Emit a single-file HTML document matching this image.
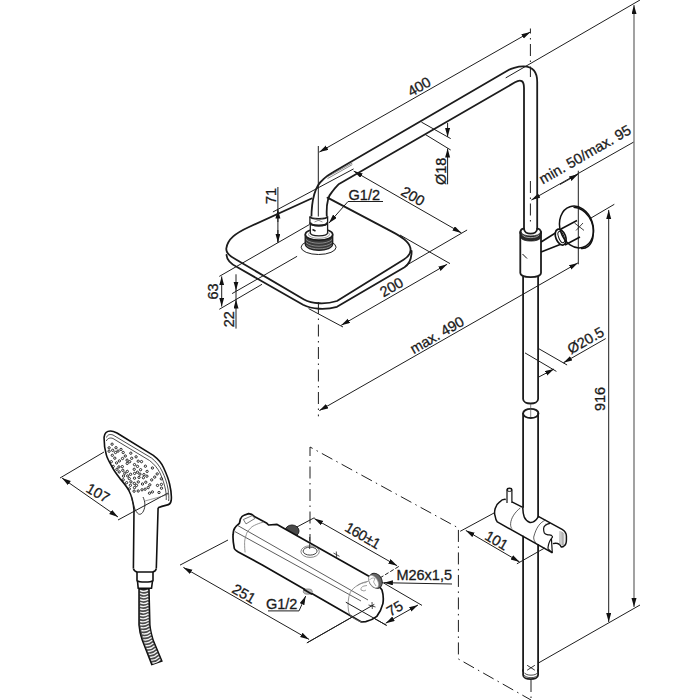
<!DOCTYPE html>
<html><head><meta charset="utf-8">
<style>
html,body{margin:0;padding:0;background:#fff;width:700px;height:700px;overflow:hidden}
svg{display:block}
text{font-family:"Liberation Sans",sans-serif;font-size:14.5px;fill:#1a1a1a;stroke:#1a1a1a;stroke-width:0.3px}
</style></head><body>
<svg width="700" height="700" viewBox="0 0 700 700">
<defs>
<marker id="a" markerUnits="userSpaceOnUse" markerWidth="10" markerHeight="6" refX="9" refY="2.5" orient="auto-start-reverse">
<path d="M0,0 L9,2.5 L0,5 Z" fill="#111"/>
</marker>
</defs>
<rect width="700" height="700" fill="#fff"/>

<!-- ============ THIN LINES (dimensions / extensions) ============ -->
<g fill="none" stroke="#1e1e1e" stroke-width="1">
  <!-- 400 -->
  <line x1="319.3" y1="152.1" x2="530.4" y2="32" marker-start="url(#a)" marker-end="url(#a)"/>
  <line x1="318.3" y1="146" x2="318.3" y2="222"/>
  <!-- top long ext to 916 -->
  <line x1="505.7" y1="77.9" x2="640" y2="0"/>
  <!-- Ø18 -->
  <line x1="421.4" y1="122.1" x2="450.7" y2="138.6"/>
  <line x1="425" y1="134.3" x2="450.7" y2="150"/>
  <line x1="447.6" y1="122.9" x2="447.6" y2="137" marker-end="url(#a)"/>
  <line x1="447.6" y1="184.3" x2="447.6" y2="148.5" marker-end="url(#a)"/>
  <!-- 71 -->
  <line x1="272.9" y1="212" x2="353.6" y2="168.9"/>
  <line x1="277.9" y1="187" x2="277.9" y2="242.5"/>
  <path d="M277.9,222 L277.9,209.5" marker-end="url(#a)"/>
  <path d="M277.9,230 L277.9,242.5" marker-end="url(#a)"/>
  <line x1="219.3" y1="276.4" x2="309.5" y2="224.5"/>
  <!-- 63 / 22 -->
  <line x1="221.7" y1="276.4" x2="221.7" y2="306.6" marker-start="url(#a)" marker-end="url(#a)"/>
  <line x1="232.1" y1="293.6" x2="297.1" y2="256.3"/>
  <line x1="219.3" y1="309.3" x2="262" y2="284.3"/>
  <path d="M236,274.3 L236,290.5" marker-end="url(#a)"/>
  <line x1="236" y1="290" x2="236" y2="300"/>
  <path d="M236,328.6 L236,299.5" marker-end="url(#a)"/>
  <!-- 200 upper -->
  <line x1="353.7" y1="171.1" x2="461.4" y2="232.9" marker-start="url(#a)" marker-end="url(#a)"/>
  <line x1="467.1" y1="230" x2="405.7" y2="265.7"/>
  <!-- 200 lower -->
  <line x1="341.2" y1="325.3" x2="447.1" y2="264.3" marker-start="url(#a)" marker-end="url(#a)"/>
  <line x1="308.6" y1="308.6" x2="343" y2="327"/>
  <line x1="400" y1="235" x2="450" y2="263.6"/>
  <!-- max 490 -->
  <line x1="319.4" y1="410.6" x2="577.9" y2="262.9" marker-start="url(#a)" marker-end="url(#a)"/>
  <!-- min50/max95 -->
  <line x1="531.4" y1="200" x2="633.6" y2="142.1" marker-start="url(#a)"/>
  <path d="M560,184.5 L578,174.3" marker-end="url(#a)"/>
  <line x1="578.3" y1="170.7" x2="578.3" y2="264.3"/>
  <!-- Ø20.5 -->
  <line x1="538.6" y1="348.6" x2="567.1" y2="365"/>
  <line x1="525" y1="352.9" x2="556.4" y2="371.4"/>
  <path d="M538.6,377.1 L554,369" marker-end="url(#a)"/>
  <path d="M605.7,338.6 L563.4,362.8" marker-end="url(#a)"/>
  <!-- 916 -->
  <line x1="608.7" y1="210" x2="608.7" y2="622" marker-start="url(#a)" marker-end="url(#a)"/>
  <line x1="634" y1="5" x2="634" y2="607" marker-start="url(#a)" marker-end="url(#a)" stroke="#555" stroke-width="1.1"/>
  <line x1="590" y1="218.6" x2="614.3" y2="204.3"/>
  <line x1="538.4" y1="663" x2="640" y2="605"/>
  <!-- G1/2 top leader -->
  <path d="M383,201.5 L348,201.5 L329,223" marker-end="url(#a)"/>
  <!-- 101 -->
  <line x1="460.2" y1="531.3" x2="494.6" y2="512.7"/>
  <line x1="516.9" y1="563.8" x2="544.7" y2="548"/>
  <line x1="465.8" y1="530.4" x2="519.6" y2="561.9" marker-start="url(#a)" marker-end="url(#a)"/>
  <!-- 160±1 -->
  <line x1="295" y1="528" x2="314.4" y2="517.7"/>
  <line x1="314.3" y1="518.6" x2="397.1" y2="565.7" marker-start="url(#a)" marker-end="url(#a)"/>
  <line x1="380" y1="577.9" x2="400" y2="565.7" stroke-dasharray="4 2"/>
  <!-- M26 leader -->
  <path d="M452,584 L383.9,582.7" marker-end="url(#a)"/>
  <!-- 75 -->
  <line x1="380" y1="580.9" x2="422" y2="605.4"/>
  <line x1="345.8" y1="602.2" x2="386.6" y2="625.4"/>
  <line x1="385.7" y1="623.2" x2="418" y2="605" marker-start="url(#a)" marker-end="url(#a)"/>
  <!-- 251 -->
  <line x1="180" y1="565.1" x2="228" y2="540"/>
  <line x1="306.9" y1="642.9" x2="374.3" y2="604.4"/>
  <line x1="183.4" y1="567.4" x2="309.1" y2="639.4" marker-start="url(#a)" marker-end="url(#a)"/>
  <!-- G1/2 bottom leader -->
  <path d="M268,610.9 L299,610.9 L305.7,596" marker-end="url(#a)"/>
  <!-- 107 -->
  <line x1="60" y1="478" x2="104" y2="452"/>
  <line x1="118" y1="520" x2="168" y2="493"/>
  <line x1="62" y1="478" x2="118" y2="517" marker-start="url(#a)" marker-end="url(#a)"/>
</g>

<!-- dash-dot center lines -->
<g fill="none" stroke="#1e1e1e" stroke-width="1" stroke-dasharray="12 4.5 1.5 4.5">
  <line x1="530.4" y1="28.5" x2="530.4" y2="77" stroke-dashoffset="7"/>
  <line x1="530.4" y1="181" x2="530.4" y2="222"/>
  <line x1="318.4" y1="302" x2="318.4" y2="416.3"/>
  <path d="M310,546 L310,447 L458.4,528 L458.4,659 L531,700"/>
  <line x1="531" y1="680" x2="531" y2="700"/>
</g>

<!-- ============ OBJECT LINES ============ -->
<g fill="none" stroke="#1c1c1c" stroke-width="1.8" stroke-linejoin="round" stroke-linecap="round">
  <!-- shower arm -->
  <path d="M311.4,218.6 C311.5,200 315,186 322.9,179.7 C326,176.5 329,174.5 333,172.3 L509,69.8 C511,68.65 537.2,58 537.2,82 L537.2,228.6"/>
  <path d="M326.9,218.6 C326,205 328,196 332,192 C334,189 336,187 338.6,184.3 L515,82.3 Q524,77.1 524,88 L524,228.6"/>
  <!-- plate top face -->
  <path d="M311.5,198.5 L249,227 C236,233 227.5,239 226.3,248.5 C226,253 229,256 236,259.5 L304,299.5 C312,304 326,304.5 337,301 L403.5,259.8 C408,257 410.6,254.5 410.6,250 C410.6,244 406,239 391.4,231.4 L327.5,197.6"/>
  <!-- plate thickness -->
  <path d="M226.5,255 C227,261 231,264 237,267 L303,304.8 C312,309.5 326,310 337,306.8 L404.5,267.2 C409.5,264 411.6,259.5 411.6,251"/>
  <!-- vertical pipe lower upper section -->
  <path d="M523.1,277 L523.1,399 C523.1,405 538.1,405 538.1,399 L538.1,277"/>
  <ellipse cx="530.8" cy="413.4" rx="7.7" ry="4.6"/>
  <path d="M523.1,413.4 L523.1,507.3 M523.1,536.3 L523.1,671 M538.1,413.4 L538.1,516.4 M538.1,545 L538.1,671"/>
  <!-- collar -->
  <path d="M520.3,232 L520.3,273 C520.3,278.5 541,278.5 541,273 L541,232"/>
  <path d="M520.3,233 C520.3,229.5 522.5,228.6 524,228.6 M541,233 C541,229.5 538.5,228.6 537.2,228.6 M524,228.6 C524,235.4 537.2,235.4 537.2,228.6"/>
  <!-- pipe bottom thread -->
  <path d="M523.1,670 L523.1,675 C523.1,680.5 538.1,680.5 538.1,675 L538.1,670"/>
  <path d="M524.5,673 C526,676 536,676 537.5,673 M524.5,675.5 C526,678.5 536,678.5 537.5,675.5" stroke-width="0.8"/>
  <path d="M527.5,665.5 L534.5,670 M534.5,665.5 L527.5,670" stroke-width="0.9"/>
</g>

<!-- ===== thermostat ===== -->
<ellipse cx="292" cy="531" rx="7" ry="6" fill="#4a4a4a" stroke="#222" stroke-width="1"/>
<path d="M248.6,513.6 C251,513.5 253,515 254.3,516.4 L266.9,523.3 L268.6,525 L277.1,524.4 L285.1,529 L373.4,578.7 L382,589.9 C383.5,595 383.5,600 382.9,603.6 C381.5,609 379.5,613 376.8,616.4 C373,619.5 369,621 365.7,621.6 L361.4,622 L262.3,565 L238.3,551.9 C236,550.5 234.5,549.5 234.3,548.4 C233,542 232.8,538 233.1,534.7 C233.3,531 234,529 234.9,527.9 C236.5,525.5 238.5,524.5 239.4,523.3 C240,521.5 240,520 240.6,518.7 C241.5,516.5 242.5,515.8 244,515.3 Z" fill="#fff" stroke="#111" stroke-width="1.7" stroke-linejoin="round"/>
<g stroke="#333" stroke-width="0.8" fill="none">
  <path d="M237,525.1 L368,600"/>
  <path d="M235,531.6 L361,601"/>
</g>
<g stroke="#777" stroke-width="0.8" fill="none">
  <path d="M263.4,522.1 C256,524 251,527 250.9,527.9 C247.5,531 246.5,533 246.3,534.7 C245,538 244.6,541 244.6,542.7 C244.6,547 244.8,550 245.1,552.4"/>
  <path d="M368.3,581.3 C362,582 353,587 350.3,592.4 C348,597 347.5,606 348.6,611.3 C349.5,615 352,618.5 361.4,622"/>
  <path d="M357,586 C359,584 363,582.5 366.5,582.5 M361,590 C360.5,588 362,586.5 364,586 L367,585.5 M361,590 L364,591 L366,590" stroke="#888"/>
  <path d="M243.4,519.5 L252.5,515.5 L254.9,518.5 L246,523.9 Z" stroke="#555"/>
</g>
<g stroke="#222" stroke-width="0.8" fill="none">
  <ellipse cx="310.1" cy="551.6" rx="9.2" ry="5.8" stroke="#666"/>
  <ellipse cx="310.1" cy="551.1" rx="7" ry="4" stroke="#444" stroke-width="1"/>
  <path d="M333.5,553 L339.5,556.3 M336.3,551.5 L336.6,557.5"/>
  <path d="M368.5,605 L375.5,607 M372,602 L372.3,609"/>
</g>
<ellipse cx="375.6" cy="580.8" rx="6.2" ry="8" transform="rotate(-32 375.6 580.8)" fill="#666" stroke="#222" stroke-width="0.9"/>
<ellipse cx="373.6" cy="581.6" rx="4" ry="7" transform="rotate(-32 373.6 581.6)" fill="#fff" stroke="#999" stroke-width="0.7"/>
<path d="M369.5,580 C371,578 373,577.5 375,578.5 L373.5,582 L376,586" stroke="#888" stroke-width="0.7" fill="none"/>
<ellipse cx="307.8" cy="591.6" rx="4.5" ry="2.6" fill="#bbb" stroke="#777" stroke-width="0.8"/>
<path d="M303.5,589.3 L312,594.2" stroke="#111" stroke-width="1.7"/>
<path d="M309.7,537 L309.7,541 M309.7,544 L309.7,549" stroke="#222" stroke-width="0.9"/>
<g stroke="#1e1e1e" stroke-width="1" fill="none">
  <line x1="345.8" y1="602.2" x2="386.6" y2="625.4"/>
  <line x1="306.9" y1="642.9" x2="374.3" y2="604.4"/>
</g>
<path d="M530.7,404 L530.7,417.5" stroke="#555" stroke-width="0.7"/>
<path d="M325.5,177.8 L352.3,163 M327.5,178.6 L352.3,164.6" stroke="#333" stroke-width="0.6" fill="none"/>
<!-- ===== fitting on head ===== -->
<g stroke="#222" stroke-width="1" fill="none">
  <ellipse cx="318.6" cy="247.2" rx="17.5" ry="7.3"/>
</g>
<g stroke="#1c1c1c" stroke-width="1.3">
  <path d="M305.2,235 L305.2,243.5 C305.2,252.5 332.7,252.5 332.7,243.5 L332.7,235 Z" fill="#3a3a3a"/>
  <path d="M306,239.5 C311,244.5 327,244.5 332,239.5 M306,242.5 C311,247.5 327,247.5 332,242.5 M306.5,245.5 C311,250 327,250 331.5,245.5" stroke="#9a9a9a" stroke-width="0.8" fill="none"/>
  <ellipse cx="319" cy="234.5" rx="13.7" ry="5.6" fill="#fff" stroke-width="1.6"/>
  <ellipse cx="319" cy="234.5" rx="10.5" ry="3.8" fill="none" stroke="#777" stroke-width="0.7"/>
  <path d="M310.3,224 L310.3,232.5 C310.3,237 327.6,237 327.6,232.5 L327.6,224 Z" fill="#fff"/>
  <path d="M309.9,216.5 L309.9,222.5 C309.9,227 327.6,227 327.6,222.5 L327.6,216.5" fill="#fff"/>
  <path d="M310,222.5 C311,226.5 326.5,226.5 327.5,222.5" stroke-width="2.2" fill="none"/>
  <path d="M309.9,216.5 C310.5,219.5 327,219.5 327.6,216.5" stroke-width="1.6" fill="none"/>
  <path d="M314.5,218.5 L322.5,222 M322.5,218.5 L314.5,222" stroke="#666" stroke-width="0.7"/>
  <path d="M312.5,229.5 L315.5,231" stroke-width="1.4"/>
</g>
<!-- ===== wall bracket ===== -->
<g stroke="#111" stroke-width="1.5" fill="none" stroke-linejoin="round">
  <path d="M541.1,242 L557,232 M541.1,252 L561.4,244"/>
  <path d="M561,229 L577,220.5 M565,245 L580,237"/>
  <ellipse cx="560.7" cy="237.1" rx="4.9" ry="8.3" transform="rotate(-22 560.7 237.1)" fill="#fff" stroke-width="1.7"/>
  <ellipse cx="561.3" cy="237" rx="2.6" ry="6" transform="rotate(-22 561.3 237)" stroke-width="1"/>
  <ellipse cx="576.5" cy="227" rx="16.5" ry="21.3" transform="rotate(-18 576.5 227)"/>
  <path d="M573.5,207.2 C586,208 596,222 592.8,238 C591,246 586,249 581,248.5"/>
  <path d="M574.5,223 L584,230.4 M576,230.5 L583,223" stroke-width="0.8"/>
</g>
<g stroke="#111" stroke-width="1.2" fill="none">
  <path d="M522.5,254 L527,258.5" stroke-width="1"/>
  <path d="M520.8,231.4 C521,237.5 540.6,237.5 540.8,231.4 L540.8,237.1 C540.6,242.4 521,242.4 520.8,237.1 Z" fill="#2a2a2a" stroke="#1c1c1c" stroke-width="0.8"/>
  <path d="M522.5,234.8 C524,238.6 537.5,238.6 539,234.8" stroke="#bbb" stroke-width="0.8"/>
</g>
<!-- ===== slider ===== -->
<g stroke="#111" stroke-width="1.5" fill="none" stroke-linejoin="round">
  <path d="M522.8,507.3 L511.9,501.9 M505.8,499.4 C503,499 501,500.5 499.7,501.9 C495,505 494,512 494.9,515.2 C495.5,519 496.5,521 497.3,521.9 L552.5,552.9"/>
  <path d="M538.3,516.4 L562.1,529.3 C565,531 566.4,533 566.4,536 L566.4,540 C566.4,543 565.5,545 564.3,545.7 C563.5,546.5 562.5,547 561.4,547.1 C560.5,545.5 559.5,544.5 559.3,544.3 C558,543.5 557,543.2 556.4,543.2 C555,543 553.8,543.3 552.9,543.6"/>
  <path d="M522.8,507.9 C523,515 524,520 530,522.5 C534,523 537,519 538.6,516.4"/>
  <path d="M507,503 L507,490 C507,487.5 511.9,487.5 511.9,490 L511.9,503" fill="#fff" stroke-width="1.2"/>
  <ellipse cx="509.45" cy="490" rx="2.45" ry="1.4" stroke-width="1"/>
  <path d="M550,523.4 C548,523.8 546.5,524.3 545.7,525 C544.3,526 543.6,527.5 543.6,528.6 C543.6,530.5 543.8,532 544.3,532.9 C545,534 546,534.4 547.1,534.6 C549,535 550.5,535 551.4,535.4 C552.3,536 552.7,536.5 552.5,537.1 C552.2,537.8 551.8,538.2 551.4,538.6 C550.7,539.3 550.4,540 550,540.7 C549.3,542 548.9,543 548.6,544.3 C548.2,546 548,547.5 547.9,548.6 M551.4,538.2 L552.3,552.9 M547.9,548.6 L552.3,552.9" stroke-width="1.2"/>
</g>
<g stroke="#333" stroke-width="0.8" fill="none">
  <path d="M520.4,507.9 C515,512 511,518 510.6,523.7 C510.5,526 511,527.5 511.9,528.6"/>
  <path d="M545.9,520 C540,522 536,528 533.7,537.1 C533.5,540 535,542 536.1,543.1"/>
  <path d="M560,531 L559.8,544.5 M561.3,531.5 L561.1,545 M562.6,532 L562.5,545.5 M563.8,533 L563.7,545" stroke="#888" stroke-width="0.7"/>
  <path d="M545.7,524.2 L547,525" stroke="#222"/>
</g>
<!-- ===== hand shower ===== -->
<g stroke="#111" stroke-width="1.6" fill="none" stroke-linejoin="round">
  <path d="M134,510 C133.5,503 131.5,495.5 128.6,490 C126,485.5 123,482 120,478.6 C116,473.5 113,469 111.4,465.7 C108.5,460.5 106.8,457 106.2,454.3 C104.6,449 104,444 104.1,437.1 C104.5,433.5 107,431 110.5,431 C113,431 115,432 117,433 L153.3,455.4 C158,459 161.5,463 163.5,467.5 C166.5,474 168.5,479 169.6,484 C171,490 171.8,496 171.2,500.5 C170.8,503 169,504.8 166.6,505.1 C163,506 160,507 158.1,507.8"/>
  <path d="M133.4,568.6 L134,510 M156.3,568.6 L158.1,507.8"/>
  <path d="M133.4,568.6 C134,571 135,571.5 137.1,572 L152.6,572 C155,571.5 156,570 156.3,568.6"/>
  <path d="M137,572 L137,580.6 C139,582.5 151,582.5 153,580.6 L153,572"/>
  <path d="M137.5,581 L138.2,588.3 L151.5,588.3 L152.5,581"/>
</g>
<g stroke="#222" stroke-width="0.8" fill="none">
  <path d="M106.5,437.5 C107.5,434.5 110,434 113,435 L151.5,458 C156,461.5 159.5,466 162,471 C165,477 167,483 168,489 C168.8,494 169,498 168.6,501"/>
  <path d="M106.3,441 C107.5,438 110.5,437.5 113,438.5 L149.5,460.5 C154,464 157.5,468 160,473 C162.8,479 164.6,485 165.6,490 C166.2,494 166.4,497 166.2,500"/>
  <path d="M145,501 C152,499 160,497 168,494.5" stroke="#555" stroke-width="0.6"/>
  <path d="M131.5,496 C132.5,503 135,512 138.6,514 C141.5,515.5 144.5,511 144.9,505.4 C145,502 144,499 143,497" stroke-width="0.9"/>
</g>
<g stroke="#151515" stroke-width="0.9" fill="none"><circle cx="119.2" cy="471.9" r="1.15"/><circle cx="127.7" cy="475.9" r="1.15"/><circle cx="134.1" cy="491.2" r="1.15"/><circle cx="134.5" cy="478.2" r="1.15"/><circle cx="134.3" cy="483.4" r="1.15"/><circle cx="129.3" cy="488.9" r="1.15"/><circle cx="112.7" cy="450.3" r="1.15"/><circle cx="157.2" cy="473.9" r="1.15"/><circle cx="116.6" cy="462.9" r="1.15"/><circle cx="137.4" cy="472.2" r="1.15"/><circle cx="130.6" cy="474.3" r="1.15"/><circle cx="143.4" cy="477.7" r="1.15"/><circle cx="126.6" cy="482.7" r="1.15"/><circle cx="114.8" cy="458.2" r="1.15"/><circle cx="145.1" cy="489.2" r="1.15"/><circle cx="112.3" cy="455.3" r="1.15"/><circle cx="122.5" cy="458.5" r="1.15"/><circle cx="123.2" cy="479.8" r="1.15"/><circle cx="134.5" cy="487.6" r="1.15"/><circle cx="112.1" cy="444.2" r="1.15"/><circle cx="136.1" cy="456.8" r="1.15"/><circle cx="109.1" cy="447.8" r="1.15"/><circle cx="130.9" cy="481.8" r="1.15"/><circle cx="138.3" cy="481.9" r="1.15"/><circle cx="161.5" cy="488.2" r="1.15"/><circle cx="124.8" cy="473.2" r="1.15"/><circle cx="115.5" cy="452.5" r="1.15"/><circle cx="130.4" cy="485.3" r="1.15"/><circle cx="147.1" cy="471.4" r="1.15"/><circle cx="145.4" cy="466.2" r="1.15"/><circle cx="142.5" cy="484.0" r="1.15"/><circle cx="137.5" cy="466.4" r="1.15"/><circle cx="154.7" cy="477.1" r="1.15"/><circle cx="149.8" cy="484.8" r="1.15"/><circle cx="152.4" cy="468.0" r="1.15"/><circle cx="113.2" cy="466.4" r="1.15"/><circle cx="123.2" cy="452.5" r="1.15"/><circle cx="123.5" cy="476.1" r="1.15"/><circle cx="111.3" cy="461.7" r="1.15"/><circle cx="127.2" cy="463.4" r="1.15"/><circle cx="161.4" cy="484.4" r="1.15"/><circle cx="116.0" cy="447.7" r="1.15"/><circle cx="142.0" cy="489.8" r="1.15"/><circle cx="122.8" cy="470.3" r="1.15"/><circle cx="122.3" cy="466.6" r="1.15"/><circle cx="131.7" cy="458.3" r="1.15"/><circle cx="130.8" cy="453.2" r="1.15"/><circle cx="109.1" cy="451.2" r="1.15"/><circle cx="138.2" cy="461.2" r="1.15"/><circle cx="138.2" cy="491.0" r="1.15"/><circle cx="121.0" cy="449.4" r="1.15"/><circle cx="118.9" cy="466.9" r="1.15"/><circle cx="129.7" cy="461.7" r="1.15"/><circle cx="146.9" cy="476.2" r="1.15"/><circle cx="157.5" cy="485.4" r="1.15"/><circle cx="134.6" cy="473.4" r="1.15"/><circle cx="116.9" cy="469.3" r="1.15"/><circle cx="134.5" cy="464.6" r="1.15"/><circle cx="140.6" cy="469.7" r="1.15"/><circle cx="141.5" cy="461.6" r="1.15"/><circle cx="118.0" cy="451.1" r="1.15"/><circle cx="129.3" cy="478.6" r="1.15"/><circle cx="125.3" cy="456.0" r="1.15"/><circle cx="127.1" cy="460.2" r="1.15"/><circle cx="139.9" cy="474.1" r="1.15"/><circle cx="127.3" cy="471.4" r="1.15"/><circle cx="136.5" cy="485.4" r="1.15"/><circle cx="143.9" cy="474.6" r="1.15"/><circle cx="139.0" cy="477.4" r="1.15"/><circle cx="149.5" cy="493.2" r="1.15"/><circle cx="119.4" cy="460.9" r="1.15"/><circle cx="159.0" cy="492.5" r="1.15"/><circle cx="145.8" cy="482.2" r="1.15"/><circle cx="152.4" cy="491.9" r="1.15"/><circle cx="134.2" cy="469.3" r="1.15"/><circle cx="148.2" cy="487.6" r="1.15"/><circle cx="161.3" cy="478.8" r="1.15"/><circle cx="151.7" cy="479.9" r="1.15"/></g><path d="M138.9,589 L138.9,625 C139.5,633 141,637 142.3,640.6 L151.7,664.6 L162,661.1 L153.4,640.6 C152,636 150.5,631 150,625 L149.1,589 Z" fill="#4a4a4a" stroke="#111" stroke-width="1.3"/><g stroke="#f4f4f4" stroke-width="1.35" fill="none"><path d="M140.1,590.3 Q144.0,592.5 147.9,590.2"/><path d="M140.1,593.4 Q144.1,595.6 148.0,593.2"/><path d="M140.1,596.5 Q144.1,598.6 148.1,596.1"/><path d="M140.1,599.6 Q144.1,601.6 148.2,599.1"/><path d="M140.1,602.7 Q144.2,604.7 148.2,602.1"/><path d="M140.1,605.8 Q144.2,607.7 148.3,605.0"/><path d="M140.1,608.9 Q144.2,610.8 148.4,608.0"/><path d="M140.1,612.0 Q144.3,613.8 148.5,611.0"/><path d="M140.1,615.1 Q144.3,616.8 148.5,613.9"/><path d="M140.1,618.2 Q144.4,619.9 148.6,616.9"/><path d="M140.1,621.4 Q144.4,622.9 148.7,619.9"/><path d="M140.1,624.5 Q144.4,625.9 148.8,622.8"/><path d="M140.7,627.5 Q144.9,628.9 149.0,625.8"/><path d="M141.4,630.5 Q145.5,631.9 149.7,628.7"/><path d="M142.0,633.6 Q146.2,634.9 150.3,631.6"/><path d="M142.7,636.6 Q146.8,637.8 150.9,634.5"/><path d="M143.4,639.7 Q147.5,640.8 151.6,637.4"/><path d="M144.4,642.6 Q148.3,643.7 152.2,640.3"/><path d="M145.5,645.5 Q149.4,646.5 153.3,643.0"/><path d="M146.7,648.4 Q150.6,649.4 154.5,645.7"/><path d="M147.8,651.3 Q151.7,652.2 155.6,648.5"/><path d="M148.9,654.2 Q152.9,655.0 156.8,651.2"/><path d="M150.1,657.1 Q154.0,657.8 157.9,654.0"/><path d="M151.2,660.0 Q155.1,660.6 159.1,656.7"/><path d="M152.3,662.9 Q156.3,663.4 160.2,659.4"/></g><!-- texts -->
<g>
  <text transform="translate(419.1,86.7) rotate(-30)" text-anchor="middle" dominant-baseline="central">400</text>
  <text transform="translate(270.7,196) rotate(-90)" text-anchor="middle" dominant-baseline="central">71</text>
  <text x="364.3" y="200" text-anchor="middle">G1/2</text>
  <text transform="translate(412.9,196.1) rotate(30)" text-anchor="middle" dominant-baseline="central">200</text>
  <text transform="translate(440.7,171.4) rotate(-90)" text-anchor="middle" dominant-baseline="central">Ø18</text>
  <text transform="translate(585,154.5) rotate(-30)" text-anchor="middle" dominant-baseline="central">min. 50/max. 95</text>
  <text transform="translate(585.6,340.4) rotate(-30)" text-anchor="middle" dominant-baseline="central">Ø20.5</text>
  <text transform="translate(600,399) rotate(-90)" text-anchor="middle" dominant-baseline="central">916</text>
  <text transform="translate(437,335) rotate(-30)" text-anchor="middle" dominant-baseline="central">max. 490</text>
  <text transform="translate(391.4,287.1) rotate(-30)" text-anchor="middle" dominant-baseline="central">200</text>
  <text transform="translate(212.9,291.4) rotate(-90)" text-anchor="middle" dominant-baseline="central">63</text>
  <text transform="translate(229.3,319.3) rotate(-90)" text-anchor="middle" dominant-baseline="central">22</text>
  <text transform="translate(98,493) rotate(30)" text-anchor="middle" dominant-baseline="central">107</text>
  <text transform="translate(496.6,540.5) rotate(30)" text-anchor="middle" dominant-baseline="central">101</text>
  <text transform="translate(362.6,535.4) rotate(30)" text-anchor="middle" dominant-baseline="central" letter-spacing="-0.5">160±1</text>
  <text x="424.2" y="580" text-anchor="middle">M26x1,5</text>
  <text transform="translate(394.7,608.5) rotate(-30)" text-anchor="middle" dominant-baseline="central">75</text>
  <text transform="translate(244,593.7) rotate(30)" text-anchor="middle" dominant-baseline="central">251</text>
  <text x="281.7" y="608.6" text-anchor="middle">G1/2</text>
</g>
</svg>
</body></html>
